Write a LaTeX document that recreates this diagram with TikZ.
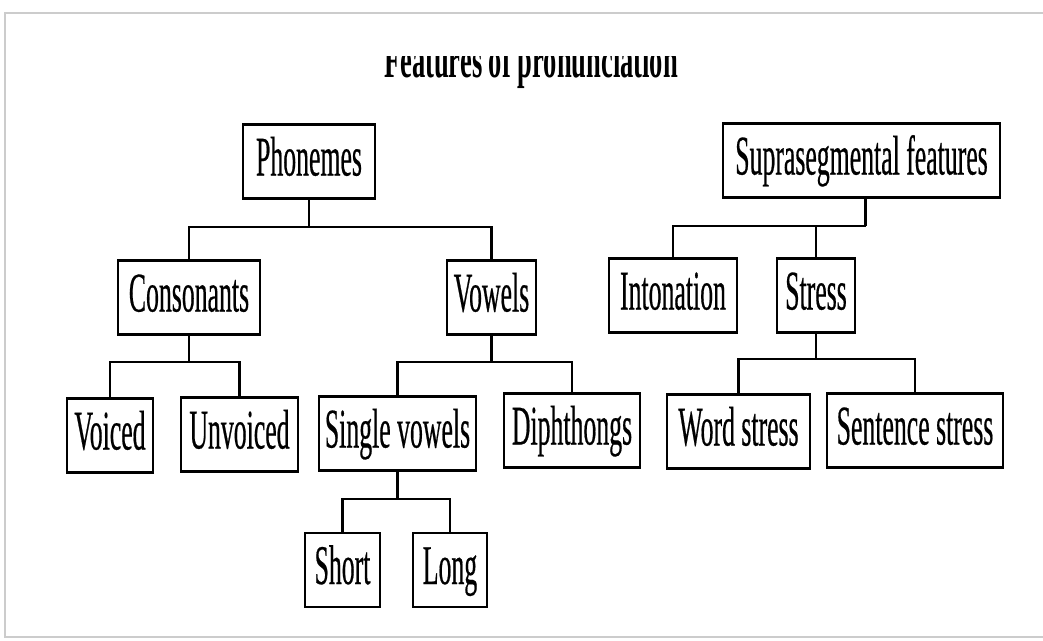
\documentclass[tikz,border=0pt]{standalone}
\usepackage{fontspec}
\setmainfont{Liberation Serif}[FakeStretch=0.46,FakeBold=0.35]
\newfontfamily\titlefont{Liberation Serif}[FakeStretch=0.51]
\begin{document}
\begin{tikzpicture}[x=1pt,y=-1pt,
  box/.style={draw, line width=2.2pt, inner sep=0pt, minimum height=74pt,
    text height=40pt, text depth=12pt, font=\fontsize{56}{58}\selectfont},
  conn/.style={line width=2.2pt}]
\useasboundingbox (0,0) rectangle (1043,640);
\draw[black!20, line width=2.5pt] (1060,13) -- (5,13) -- (5,637) -- (1060,637);
% title (top clipped as in the reference)
\begin{scope}
\clip (0,56) rectangle (1043,120);
\node[anchor=base, inner sep=0pt, font=\titlefont\bfseries\fontsize{52}{54}\selectfont] (title) at (531,77) {Features of pronunciation};
\end{scope}
% boxes
\node[box, minimum width=132pt] (phon) at (309,161.5) {Phonemes};
\node[box, minimum width=142pt] (cons) at (189,297.5) {Consonants};
\node[box, minimum width=89pt] (vow) at (491.5,297.5) {Vowels};
\node[box, minimum width=86pt] (voi) at (110,435.5) {Voiced};
\node[box, minimum width=117pt] (unv) at (239.5,434.5) {Unvoiced};
\node[box, minimum width=157pt] (sing) at (397.5,433.5) {Single vowels};
\node[box, minimum width=136pt] (diph) at (572,430.5) {Diphthongs};
\node[box, minimum width=75pt] (short) at (342.5,570) {Short};
\node[box, minimum width=74pt] (long) at (450,570) {Long};
\node[box, minimum width=277pt] (supra) at (861.5,160.5) {Suprasegmental features};
\node[box, minimum width=128pt] (inton) at (673,295.5) {Intonation};
\node[box, minimum width=78pt] (stress) at (816,295.5) {Stress};
\node[box, minimum width=143pt] (word) at (738.5,431.5) {Word stress};
\node[box, minimum width=176pt] (sent) at (915,430.5) {Sentence stress};
% connectors
\path (phon.south) ++(0,27) coordinate (bphon);
\draw[conn] (phon.south) -- (bphon);
\draw[conn] (bphon) -| (cons.north);
\draw[conn] (bphon) -| (vow.north);
\path (cons.south) ++(0,26) coordinate (bcons);
\draw[conn] (cons.south) -- (bcons);
\draw[conn] (bcons) -| (voi.north);
\draw[conn] (bcons) -| (unv.north);
\path (vow.south) ++(0,26) coordinate (bvow);
\draw[conn] (vow.south) -- (bvow);
\draw[conn] (bvow) -| (sing.north);
\draw[conn] (bvow) -| (diph.north);
\path (sing.south) ++(0,27) coordinate (bsing);
\draw[conn] (sing.south) -- (bsing);
\draw[conn] (bsing) -| (short.north);
\draw[conn] (bsing) -| (long.north);
\path (supra.south) ++(4,27) coordinate (bsupra);
\draw[conn] (supra.south) ++(4,0) -- (bsupra);
\draw[conn] (bsupra) -| (inton.north);
\draw[conn] (bsupra) -| (stress.north);
\path (stress.south) ++(0,25) coordinate (bstress);
\draw[conn] (stress.south) -- (bstress);
\draw[conn] (bstress) -| (word.north);
\draw[conn] (bstress) -| (sent.north);
\end{tikzpicture}
\end{document}
